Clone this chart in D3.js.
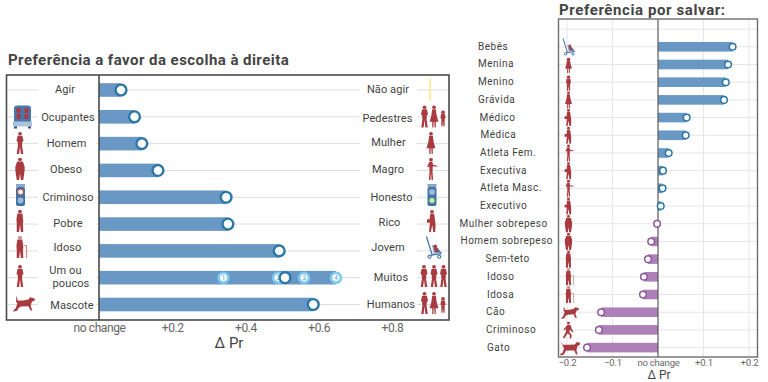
<!DOCTYPE html>
<html><head><meta charset="utf-8">
<script src="https://cdnjs.cloudflare.com/ajax/libs/d3/7.8.5/d3.min.js"></script>
<style>
html,body{margin:0;padding:0;background:#fff}
svg{display:block}
text{font-family:Roboto,"Open Sans",sans-serif}
</style></head><body>
<svg id="c" width="768" height="382"></svg>
<script>
// ---- data: left chart
const leftTitle = "Preferência a favor da escolha à direita";
const leftCats = ["Agir","Ocupantes","Homem","Obeso","Criminoso","Pobre","Idoso","Um ou|poucos","Mascote"];
const rightCats = ["Não agir","Pedestres","Mulher","Magro","Honesto","Rico","Jovem","Muitos","Humanos"];
const leftValues = [0.06,0.097,0.117,0.161,0.347,0.352,0.492,0.508,0.585];
const extraLabels = ["1","2","3","4"];
const extraValues = [0.34,0.489,0.56,0.647];
const leftTicks = [0,0.2,0.4,0.6,0.8];
const leftTickLabels = ["no change","+0.2","+0.4","+0.6","+0.8"];
const leftIconsA = ["curve","car","man","fat","jail","poor","elder","man","dog"];
const leftIconsB = ["line","group3","woman","thin","free","rich","stroller","group3m","group3"];
// ---- data: right chart
const saveTitle = "Preferência por salvar:";
const saveCats = ["Bebês","Menina","Menino","Grávida","Médico","Médica","Atleta Fem.","Executiva","Atleta Masc.","Executivo","Mulher sobrepeso","Homem sobrepeso","Sem-teto","Idoso","Idosa","Cão","Criminoso","Gato"];
const saveValues = [0.164,0.154,0.149,0.145,0.063,0.061,0.0235,0.011,0.010,0.006,-0.002,-0.015,-0.022,-0.031,-0.033,-0.125,-0.13,-0.156];
const saveIcons = ["stroller","girl","kid","woman","rich","rich","thin","rich","thin","rich","fat","fat","poor","elder","elder","dog","thief","cat"];
const saveTicks = [-0.2,-0.1,0,0.1,0.2];
const saveTickLabels = ["−0.2","−0.1","no change","+0.1","+0.2"];
const axisName = "Δ Pr";

// ---- layout (not data)
const leftLabelX = [65,68,66.5,66,68,68,67.5,65.5,72];
const rightLabelX = [388,387.5,388.5,388,391.5,389.5,388,391,391];
const leftLabelDy = [-1,0,-1,-1,0,-1,-4,0,0];
const rightLabelDy = [-1,1,-2,-1,0,-2,-4,-1,-1];
const saveLabelX = [478,478,478,478,479.5,480.5,480,480,480,480,459.5,460.5,485.5,487,487,486,486,487];
const iconCyA = [90,116.5,143,169,195,221,247,276,303.5];
const iconCyB = [90,116.5,143,169,195,221,247.5,276,303];
const iconCxB = [430,434,431,431,432,432,433.5,434,434];
const iconCxA = [22,22.5,20,20,20.5,20,20,20,24];

const svg = d3.select("#c");
const INK="#3f3f3f", RED="#a93a40", BLUE="#6a98c4", BLUED="#2b77a6", PUR="#ae80b8", PURD="#8c589e";

// ---- pictograms
const P = {
 man:"M-8,-33L8,-33L12,-8L8,-7L7,12L11,50L3,50L0,16L-3,50L-11,50L-7,12L-8,-7L-12,-8Z",
 woman:"M-6,-33L6,-33L9,-5L15,24L6,24L6,50L2,50L1,24L-1,24L-2,50L-6,50L-6,24L-15,24L-9,-5Z",
 fat:"M-10,-34L10,-34L16,-8L15,14L11,50L3,50L0,20L-3,50L-11,50L-15,14L-16,-8Z",
 thin:"M-5,-33L5,-33L6,-20L22,-14L21,-10L6,-12L5,10L7,50L2,50L0,14L-2,50L-7,50L-5,10L-6,-12L-14,-8Z",
 rich:"M-6,-33L7,-33L10,-6L12,12L11,50L4,50L1,18L-4,50L-10,50L-7,8L-17,8L-17,-8L-8,-8Z",
 poor:"M-9,-34L8,-34L11,0L10,12L11,50L3,50L0,16L-3,50L-11,50L-11,12L-12,-6Z",
 kid:"M-8,-20L8,-20L11,4L7,6L7,50L2,50L0,20L-2,50L-7,50L-7,6L-11,4Z",
 girl:"M-7,-20L7,-20L10,4L16,24L6,24L6,50L2,50L1,24L-1,24L-2,50L-6,50L-6,24L-16,24L-10,4Z",
 thief:"M-4,-30L10,-28L14,-6L22,12L16,14L6,-2L4,14L14,30L12,50L5,50L6,32L-4,20L-18,50L-25,46L-12,14L-10,-8L-18,2L-22,-2Z"
};
const HEAD = {man:-42,woman:-42,fat:-43,thin:-42,rich:-42,poor:-43,kid:-30,girl:-30,thief:-40};
const XS = 1.35;
function person(g,type,cx,cy,h){
  const s=h/100, t=g.append("g").attr("transform",`translate(${cx},${cy}) scale(${s*XS},${s})`).attr("fill",RED);
  t.append("path").attr("d",P[type]);
  t.append("ellipse").attr("cy",HEAD[type]).attr("rx",(type==="kid"||type==="girl"?10:8)/XS*1.1).attr("ry",type==="kid"||type==="girl"?10:8);
}
function elder(g,cx,cy,h){
  const s=h/100, t=g.append("g").attr("transform",`translate(${cx},${cy}) scale(${s*XS},${s})`);
  t.append("path").attr("d",P.poor).attr("fill",RED);
  t.append("ellipse").attr("cy",-42).attr("rx",7).attr("ry",8).attr("fill","#c98a8c");
  t.append("path").attr("d","M12,-8L22,-6L22,50").attr("fill","none").attr("stroke","#c48f88").attr("stroke-width",4);
}
function quad(g,cx,cy,w,big){
  const s=w/100, t=g.append("g").attr("transform",`translate(${cx},${cy}) scale(${s})`).attr("fill",RED);
  t.append("path").attr("d",big
   ?"M-50,-34L-36,-14L-8,-14L24,-16L34,-28L50,-24L50,-16L38,-8L32,12L38,34L30,34L22,14L0,14L-20,14L-30,34L-50,40L-48,32L-36,24L-30,2L-36,-8Z"
   :"M-34,-36L-28,-12L-6,-14L20,-18L28,-28L50,-22L48,-14L36,-8L30,10L38,32L30,32L20,12L-14,14L-26,22L-30,32L-50,38L-46,30L-38,22L-30,0L-36,-8Z");
}
function stroller(g,cx,cy,h){
  const s=h/100, t=g.append("g").attr("transform",`translate(${cx},${cy}) scale(${s})`);
  t.append("path").attr("d","M-7,-12L14,-2L34,24L2,28Z").attr("fill","#7f9cc6");
  t.append("path").attr("d","M-32,-50L-6,34L36,28M-2,30L-22,40M8,-6L36,28").attr("fill","none").attr("stroke","#4a78ac").attr("stroke-width",6);
  t.append("circle").attr("cx",8).attr("cy",-6).attr("r",8).attr("fill",RED);
  t.append("path").attr("d","M2,2L18,2L24,20L8,20Z").attr("fill",RED);
  [[-18,42],[26,42]].forEach(d=>t.append("circle").attr("cx",d[0]).attr("cy",d[1]).attr("r",7).attr("fill","#fff").attr("stroke","#3f72a8").attr("stroke-width",5));
}
function car(g,cx,cy){
  const t=g.append("g").attr("transform",`translate(${cx},${cy})`);
  t.append("rect").attr("x",-8.5).attr("y",-11).attr("width",17).attr("height",18).attr("rx",3).attr("fill","#4a78ac");
  t.append("rect").attr("x",-9.5).attr("y",5).attr("width",19).attr("height",5).attr("fill","#a9c3df");
  [[-8.5,10],[5.5,10]].forEach(d=>t.append("rect").attr("x",d[0]).attr("y",d[1]).attr("width",3).attr("height",2).attr("fill","#2f4f7a"));
  [[-4,-6],[4,-6],[-4,0],[4,0]].forEach(d=>t.append("rect").attr("x",d[0]-2).attr("y",d[1]-2.5).attr("width",4).attr("height",5).attr("fill",RED));
}
function lightbox(g,cx,cy,col,top){
  const t=g.append("g").attr("transform",`translate(${cx},${cy})`);
  t.append("rect").attr("x",-4.5).attr("y",-11).attr("width",9).attr("height",3).attr("fill","#8aa6c9");
  t.append("rect").attr("x",-4.5).attr("y",-8).attr("width",9).attr("height",19).attr("rx",2).attr("fill","#3f72a8");
  t.append("circle").attr("cy",-3).attr("r",3).attr("fill",top?"#fff":"#9db7d8").attr("stroke",top?col:"none");
  t.append("circle").attr("cy",5.5).attr("r",3).attr("fill",top?"#9db7d8":"#cfe8c8").attr("stroke",top?"none":col);
}
function icon(g,name,cx,cy,h){
  if(P[name]) person(g,name,cx,cy,h);
  else if(name==="elder") elder(g,cx,cy,h);
  else if(name==="stroller") stroller(g,cx,cy,h);
  else if(name==="dog") quad(g,cx,cy,h,false);
  else if(name==="cat") quad(g,cx,cy,h*1.25,true);
  else if(name==="car") car(g,cx,cy);
  else if(name==="jail") lightbox(g,cx,cy,"#c0392b",true);
  else if(name==="free") lightbox(g,cx,cy,"#4a9d5a",false);
  else if(name==="curve") g.append("path").attr("d",`M${cx-7},${cy-10}Q${cx-5},${cy}${cx+7},${cy+10}`).attr("fill","none").attr("stroke","#f3e9a6").attr("stroke-width",2.2);
  else if(name==="line") g.append("path").attr("d",`M${cx},${cy-11}V${cy+11}`).attr("stroke","#f6eeb0").attr("stroke-width",2.4);
  else if(name==="group3"){person(g,"man",cx-9.5,cy,h);person(g,"woman",cx,cy,h);person(g,"kid",cx+9,cy+1,h*0.8);}
  else if(name==="group3m"){person(g,"man",cx-10,cy,h);person(g,"man",cx,cy,h);person(g,"man",cx+9.5,cy,h);}
}

// ---- left chart
const xL = d3.scaleLinear().domain([0,0.8]).range([99,392]);
const yL = d3.scalePoint().domain(d3.range(leftCats.length)).range([90,304.5]);
const barEnd = leftValues.map((v,i)=>i===7?d3.max(extraValues):v);
const L = svg.append("g");
L.append("rect").attr("x",6.5).attr("y",75).attr("width",442.5).attr("height",245).attr("fill","#fff").attr("stroke","#4a4a4a").attr("stroke-width",1.6);
const rowsL = L.selectAll("g.r").data(leftCats).join("g").attr("class","r");
[[7,38],[96,360],[417,448]].forEach(s=>{
  rowsL.append("line").attr("x1",s[0]).attr("x2",s[1]).attr("y1",(d,i)=>yL(i)).attr("y2",(d,i)=>yL(i)).attr("stroke","#dedede").attr("stroke-width",1);
});
L.selectAll("rect.b").data(barEnd).join("rect").attr("class","b")
 .attr("x",xL(0)).attr("width",d=>xL(d)-xL(0)).attr("y",(d,i)=>yL(i)-6.8).attr("height",13.6).attr("fill",BLUE);
L.append("line").attr("x1",xL(0)).attr("x2",xL(0)).attr("y1",75).attr("y2",320).attr("stroke","#4a4a4a").attr("stroke-width",1.6);
const extra = L.selectAll("g.e").data(extraValues).join("g").attr("class","e").attr("transform",d=>`translate(${xL(d)},${yL(7)})`);
extra.append("circle").attr("r",5).attr("fill","#fff").attr("stroke","#7cc8ee").attr("stroke-width",2.6);
extra.append("text").text((d,i)=>extraLabels[i]).attr("text-anchor","middle").attr("y",2.5).attr("font-size",7).attr("fill","#5aa7d4");
L.selectAll("circle.p").data(leftValues).join("circle").attr("class","p").attr("cx",d=>xL(d)).attr("cy",(d,i)=>yL(i)).attr("r",5.4).attr("fill","#fff").attr("stroke",BLUED).attr("stroke-width",2.4);
function labels(sel,cats,xs,dys){
  cats.forEach((c,i)=>{
    const parts=c.split("|");
    if(parts.length>1){
      const t=sel.append("text").attr("font-size",11).attr("letter-spacing",0.1).attr("fill",INK);
      t.append("tspan").attr("x",65.5).attr("y",yL(i)-4).attr("text-anchor","middle").text(parts[0]);
      t.append("tspan").attr("x",71).attr("y",yL(i)+9.5).attr("text-anchor","middle").text(parts[1]);
    } else {
      sel.append("text").text(c).attr("x",xs[i]).attr("y",yL(i)+4+dys[i]).attr("text-anchor","middle").attr("font-size",11).attr("letter-spacing",0.1).attr("fill",INK);
    }
  });
}
labels(L,leftCats,leftLabelX,leftLabelDy);
labels(L,rightCats,rightLabelX,rightLabelDy);
leftIconsA.forEach((n,i)=>icon(L,n,iconCxA[i],iconCyA[i],22));
leftIconsB.forEach((n,i)=>icon(L,n,iconCxB[i],iconCyB[i],22));
svg.append("text").text(leftTitle).attr("x",8).attr("y",65).attr("font-size",15).attr("font-weight",700).attr("letter-spacing",0.45).attr("fill","#444");
const axL = L.append("g").attr("transform","translate(0,320)").call(d3.axisBottom(xL).tickValues(leftTicks).tickFormat((d,i)=>leftTickLabels[i]).tickSize(0).tickPadding(3));
axL.select(".domain").remove();
axL.selectAll("text").attr("font-size",12).attr("letter-spacing",-0.4).attr("fill","#666").style("font-family","Roboto");
svg.append("text").text(axisName).attr("x",229).attr("y",348).attr("text-anchor","middle").attr("font-size",15).attr("fill","#444");

// ---- right chart
const xR = d3.scaleLinear().domain([-0.2,0.2]).range([567,749]);
const yR = d3.scalePoint().domain(d3.range(saveCats.length)).range([46.8,347.6]);
const R = svg.append("g");
R.append("rect").attr("x",558.5).attr("y",19).attr("width",199).attr("height",338).attr("fill","#fff");
const gridX=[-0.2,-0.1,0.1,0.2];
R.selectAll("line.gx").data(gridX).join("line").attr("class","gx").attr("x1",d=>xR(d)).attr("x2",d=>xR(d)).attr("y1",19).attr("y2",357).attr("stroke","#e6e6e6");
R.selectAll("line.gy").data(saveCats).join("line").attr("class","gy").attr("x1",558.5).attr("x2",757.5).attr("y1",(d,i)=>yR(i)).attr("y2",(d,i)=>yR(i)).attr("stroke","#e6e6e6");
R.append("line").attr("x1",558.5).attr("x2",757.5).attr("y1",29.3).attr("y2",29.3).attr("stroke","#e6e6e6");
R.selectAll("rect.b").data(saveValues).join("rect").attr("class","b")
 .attr("x",d=>Math.min(xR(d),xR(0))).attr("width",d=>Math.abs(xR(d)-xR(0))).attr("y",(d,i)=>yR(i)-4.8).attr("height",9.6).attr("fill",d=>d>0?BLUE:PUR);
R.append("line").attr("x1",xR(0)).attr("x2",xR(0)).attr("y1",19).attr("y2",357).attr("stroke","#5a5a5a").attr("stroke-width",1.2);
R.append("rect").attr("x",558.5).attr("y",19).attr("width",199).attr("height",338).attr("fill","none").attr("stroke","#6e6e6e").attr("stroke-width",1.4);
R.selectAll("circle.p").data(saveValues).join("circle").attr("class","p").attr("cx",d=>xR(d)).attr("cy",(d,i)=>yR(i)).attr("r",3.3).attr("fill","#fff").attr("stroke",d=>d>0?BLUED:PURD).attr("stroke-width",1.5);
saveCats.forEach((c,i)=>R.append("text").text(c).attr("x",saveLabelX[i]).attr("y",yR(i)+3).attr("font-size",10).attr("letter-spacing",0.5).attr("fill",INK));
saveIcons.forEach((n,i)=>icon(R,n,n==="dog"||n==="cat"?570:568.5,yR(i),n==="dog"?18:n==="cat"?16:17));
svg.append("text").text(saveTitle).attr("x",559).attr("y",15).attr("font-size",15).attr("font-weight",700).attr("letter-spacing",0.6).attr("fill","#444");
const axR = R.append("g").attr("transform","translate(0,357)").call(d3.axisBottom(xR).tickValues(saveTicks).tickFormat((d,i)=>saveTickLabels[i]).tickSize(0).tickPadding(2));
axR.select(".domain").remove();
axR.selectAll("text").attr("font-size",9.5).attr("letter-spacing",-0.2).attr("fill","#666").style("font-family","Roboto");
svg.append("text").text(axisName).attr("x",659).attr("y",379).attr("text-anchor","middle").attr("font-size",12).attr("fill","#444");
</script></body></html>
